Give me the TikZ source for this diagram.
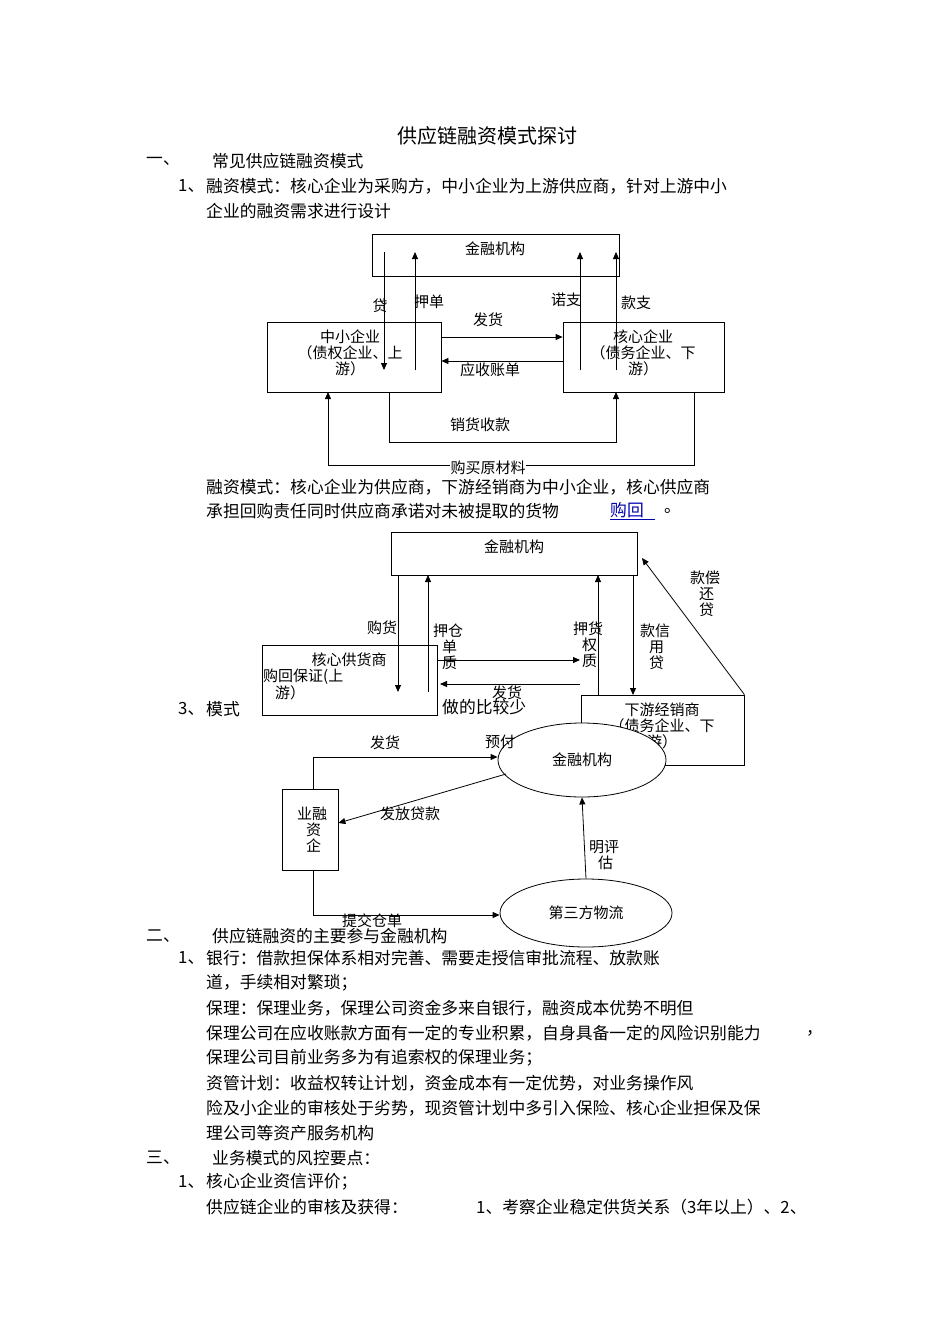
\documentclass[tikz,border=0pt]{standalone}
\usepackage{fontspec}
\setmainfont{Noto Sans CJK SC}
\usetikzlibrary{arrows.meta,shapes.geometric}
\begin{document}
\begin{tikzpicture}[x=1pt,y=-1pt,
  every node/.style={inner sep=0pt,font=\fontsize{16.8}{17}\selectfont},
  sm/.style={font=\fontsize{15}{16}\selectfont},
  tx/.style={anchor=west},
  box/.style={draw,thick,rectangle,inner sep=0pt},
  ar/.style={thick,-{Triangle[length=7pt,width=6pt]}},
  ln/.style={thick}]
\useasboundingbox (0,0) rectangle (950,1344);
\node[font=\fontsize{20}{22}\selectfont] (title) at (487,136) {供应链融资模式探讨};
\node[tx] (h1a) at (146,161) {一、};
\node[tx] (h1b) at (212,161) {常见供应链融资模式};
\node[tx] (l1a) at (178,186) {1、};
\node[tx] (l1b) at (206,186) {融资模式：核心企业为采购方，中小企业为上游供应商，针对上游中小};
\node[tx] (l1c) at (206,211) {企业的融资需求进行设计};
% diagram 1
\node[box,minimum width=247,minimum height=42] (F1) at (495.5,255) {};
\node[sm] (F1t) at (495,249) {金融机构};
\node[box,minimum width=174,minimum height=70] (S1) at (354,357) {};
\node[sm,align=center,anchor=north] (S1t) at (350,330) {中小企业\\（债权企业、上\\游）};
\node[box,minimum width=161,minimum height=70] (C1) at (643.5,357) {};
\node[sm,align=center,anchor=north] (C1t) at (643,330) {核心企业\\（债务企业、下\\游）};
\draw[ar] (384,252) -- (384,370);
\draw[ar] (415,370) -- (415,252);
\draw[ar] (580,370) -- (580,252);
\draw[ar] (616,370) -- (616,252);
\draw[ar] (S1.east |- 0,337) -- (C1.west |- 0,337);
\draw[ar] (C1.west |- 0,361) -- (S1.east |- 0,361);
\node[sm] (L1) at (488,320) {发货};
\node[sm] (L2) at (490,370) {应收账单};
\node[sm] (L3) at (380,306) {贷};
\node[sm] (L4) at (429,302) {押单};
\node[sm] (L5) at (566,300) {诺支};
\node[sm] (L6) at (636,303) {款支};
\coordinate (p1) at (389,442); \coordinate (p2) at (616,442);
\draw[ar] (389,392) -- (p1) -- (p2) -- (616,392);
\node[sm] (L7) at (480,425) {销货收款};
\coordinate (q1) at (694,465); \coordinate (q2) at (328,465);
\draw[ar] (694,392) -- (q1) -- (q2) -- (328,392);
\node[sm,fill=white,inner sep=0.5pt] (L8) at (488,468) {购买原材料};
\node[tx] (l2b) at (206,487) {融资模式：核心企业为供应商，下游经销商为中小企业，核心供应商};
\node[tx] (l2c) at (206,511) {承担回购责任同时供应商承诺对未被提取的货物};
\node[tx,text=blue!70!black] (l2d) at (610,511) {\underline{购回\ \ \ }};
\node[tx] (l2e) at (664,511) {。};
% diagram 2
\node[box,minimum width=246,minimum height=43] (F2) at (514,553.5) {};
\node[sm] (F2t) at (514,547) {金融机构};
\node[box,minimum width=175,minimum height=70] (K2) at (349.5,680) {};
\node[sm] (K2t) at (349,660) {核心供货商};
\node[sm,tx] (K2u) at (263,677) {购回保证(上};
\node[sm,tx] (K2v) at (275,693) {游）};
\node[box,minimum width=163,minimum height=70] (D2) at (662.5,730) {};
\node[sm,align=center,anchor=north] (D2t) at (662,703) {下游经销商\\（债务企业、下\\游）};
\draw[ar] (398,575) -- (398,692);
\draw[ar] (428,692) -- (428,575);
\draw[ar] (598,695) -- (598,575);
\draw[ar] (633,575) -- (633,695);
\draw[ar] (437,660) -- (580,660);
\draw[ar] (580,684) -- (440,684);
\draw[ar] (D2.north east) -- (642,558);
\node[sm] (M1) at (382,628) {购货};
\node[sm,align=center] (M2) at (448,647) {押仓\\\ 单\\\ 质};
\node[sm,align=center] (M3) at (588,645) {押货\\\ 权\\\ 质};
\node[sm,align=center] (M4) at (655,647) {款信\\\ 用\\\ 贷};
\node[sm,align=center] (M5) at (705,594) {款偿\\\ 还\\\ 贷};
\node[sm] (M6) at (507,693) {发货};
\node[tx] (M7) at (442,707) {做的比较少};
\node[tx] (l3a) at (178,709) {3、};
\node[tx] (l3b) at (206,709) {模式};
% diagram 3
\node[sm,ellipse,draw,thick,minimum width=168,minimum height=74,fill=white] (F3) at (582,760) {金融机构};
\node[box,minimum width=56,minimum height=81,fill=white] (E3) at (310,829.5) {};
\node[sm,align=center] (E3t) at (312,830) {业融\\\ 资\\\ 企};
\node[sm,ellipse,draw,thick,minimum width=172,minimum height=68] (W3) at (586,913) {第三方物流};
\coordinate (r1) at (313,757);
\draw[ar] (313,789) -- (r1) -- (F3.west |- r1);
\node[sm] (N1) at (385,743) {发货};
\node[sm] (N2) at (500,742) {预付};
\draw[ar] (506,774) -- (E3.east |- 0,823);
\node[sm] (N3) at (410,814) {发放贷款};
\draw[ar] (W3.north) -- (F3.south);
\node[sm,align=center] (N4) at (604,855) {明评\\\ 估};
\coordinate (s1) at (313,915);
\draw[ar] (313,870) -- (s1) -- (W3.west |- s1);
\node[sm] (N5) at (372,921) {提交仓单};
% section 2
\node[tx] (h2a) at (146,936) {二、};
\node[tx] (h2b) at (212,936) {供应链融资的主要参与金融机构};
\node[tx] (b1) at (178,958) {1、};
\node[tx] (b2) at (206,958) {银行：借款担保体系相对完善、需要走授信审批流程、放款账};
\node[tx] (b3) at (206,983) {道，手续相对繁琐；};
\node[tx] (b4) at (206,1008) {保理：保理业务，保理公司资金多来自银行，融资成本优势不明但};
\node[tx] (b5) at (206,1033) {保理公司在应收账款方面有一定的专业积累，自身具备一定的风险识别能力};
\node[tx] (b5b) at (806,1033) {，};
\node[tx] (b6) at (206,1058) {保理公司目前业务多为有追索权的保理业务；};
\node[tx] (b7) at (206,1083) {资管计划：收益权转让计划，资金成本有一定优势，对业务操作风};
\node[tx] (b8) at (206,1108) {险及小企业的审核处于劣势，现资管计划中多引入保险、核心企业担保及保};
\node[tx] (b9) at (206,1133) {理公司等资产服务机构};
\node[tx] (h3a) at (146,1158) {三、};
\node[tx] (h3b) at (212,1158) {业务模式的风控要点：};
\node[tx] (c1) at (178,1182) {1、};
\node[tx] (c2) at (206,1182) {核心企业资信评价；};
\node[tx] (c3) at (206,1207) {供应链企业的审核及获得：};
\node[tx] (c4) at (476,1207) {1、考察企业稳定供货关系（3年以上）、2、};
\end{tikzpicture}
\end{document}
